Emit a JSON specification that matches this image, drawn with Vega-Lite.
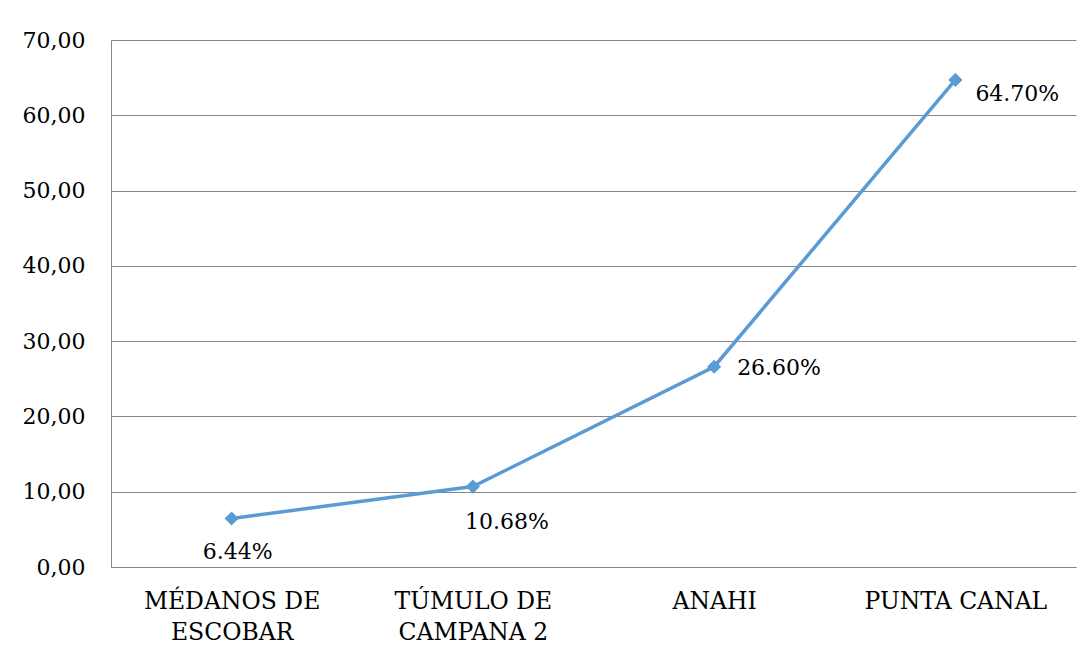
{
  "$schema": "https://vega.github.io/schema/vega-lite/v6.json",
  "autosize": "none",
  "width": 965,
  "height": 527,
  "padding": {"left": 111, "top": 40, "right": 15, "bottom": 94},
  "background": "white",
  "config": {
    "view": {"stroke": null},
    "font": "DejaVu Serif",
    "text": {"font": "DejaVu Serif"},
    "axis": {"labelFont": "DejaVu Serif", "labelFontSize": 22, "labelColor": "#000000", "domainColor": "#868686", "gridColor": "#868686", "ticks": false, "labelLimit": 400}
  },
  "data": {
    "values": [
      {"sitio": "MÉDANOS DE ESCOBAR", "valor": 6.44, "etiqueta": "6.44%"},
      {"sitio": "TÚMULO DE CAMPANA 2", "valor": 10.68, "etiqueta": "10.68%"},
      {"sitio": "ANAHI", "valor": 26.6, "etiqueta": "26.60%"},
      {"sitio": "PUNTA CANAL", "valor": 64.7, "etiqueta": "64.70%"}
    ]
  },
  "encoding": {
    "x": {
      "field": "sitio", "type": "nominal", "sort": null, "title": null,
      "scale": {"paddingInner": 0, "paddingOuter": 0.5},
      "axis": {
        "labelAngle": 0, "labelPadding": 22, "labelBaseline": "top", "labelLineHeight": 31,
        "labelFontSize": 23.5, "labelLimit": 400,
        "grid": false, "domain": true,
        "labelExpr": "datum.label == 'MÉDANOS DE ESCOBAR' ? ['MÉDANOS DE', 'ESCOBAR'] : datum.label == 'TÚMULO DE CAMPANA 2' ? ['TÚMULO DE', 'CAMPANA 2'] : datum.label"
      }
    },
    "y": {
      "field": "valor", "type": "quantitative", "title": null,
      "scale": {"domain": [0, 70], "nice": false, "zero": true},
      "axis": {
        "values": [0, 10, 20, 30, 40, 50, 60, 70], "grid": true, "domain": true,
        "labelPadding": 26,
        "labelExpr": "replace(format(datum.value, '.2f'), '.', ',')"
      }
    }
  },
  "layer": [
    {"mark": {"type": "line", "color": "#5B9BD5", "strokeWidth": 3.5}},
    {"mark": {"type": "point", "shape": "diamond", "filled": true, "color": "#5B9BD5", "size": 200, "opacity": 1}},
    {
      "transform": [{"filter": "datum.sitio == 'MÉDANOS DE ESCOBAR'"}],
      "mark": {"type": "text", "font": "DejaVu Serif", "fontSize": 22, "align": "center", "baseline": "middle", "dx": 6, "dy": 33, "color": "#000000"},
      "encoding": {"text": {"field": "etiqueta"}}
    },
    {
      "transform": [{"filter": "datum.sitio == 'TÚMULO DE CAMPANA 2'"}],
      "mark": {"type": "text", "font": "DejaVu Serif", "fontSize": 22, "align": "center", "baseline": "middle", "dx": 34, "dy": 35, "color": "#000000"},
      "encoding": {"text": {"field": "etiqueta"}}
    },
    {
      "transform": [{"filter": "datum.sitio == 'ANAHI'"}],
      "mark": {"type": "text", "font": "DejaVu Serif", "fontSize": 22, "align": "left", "baseline": "middle", "dx": 23, "dy": 1, "color": "#000000"},
      "encoding": {"text": {"field": "etiqueta"}}
    },
    {
      "transform": [{"filter": "datum.sitio == 'PUNTA CANAL'"}],
      "mark": {"type": "text", "font": "DejaVu Serif", "fontSize": 22, "align": "left", "baseline": "middle", "dx": 20, "dy": 14, "color": "#000000"},
      "encoding": {"text": {"field": "etiqueta"}}
    }
  ]
}
